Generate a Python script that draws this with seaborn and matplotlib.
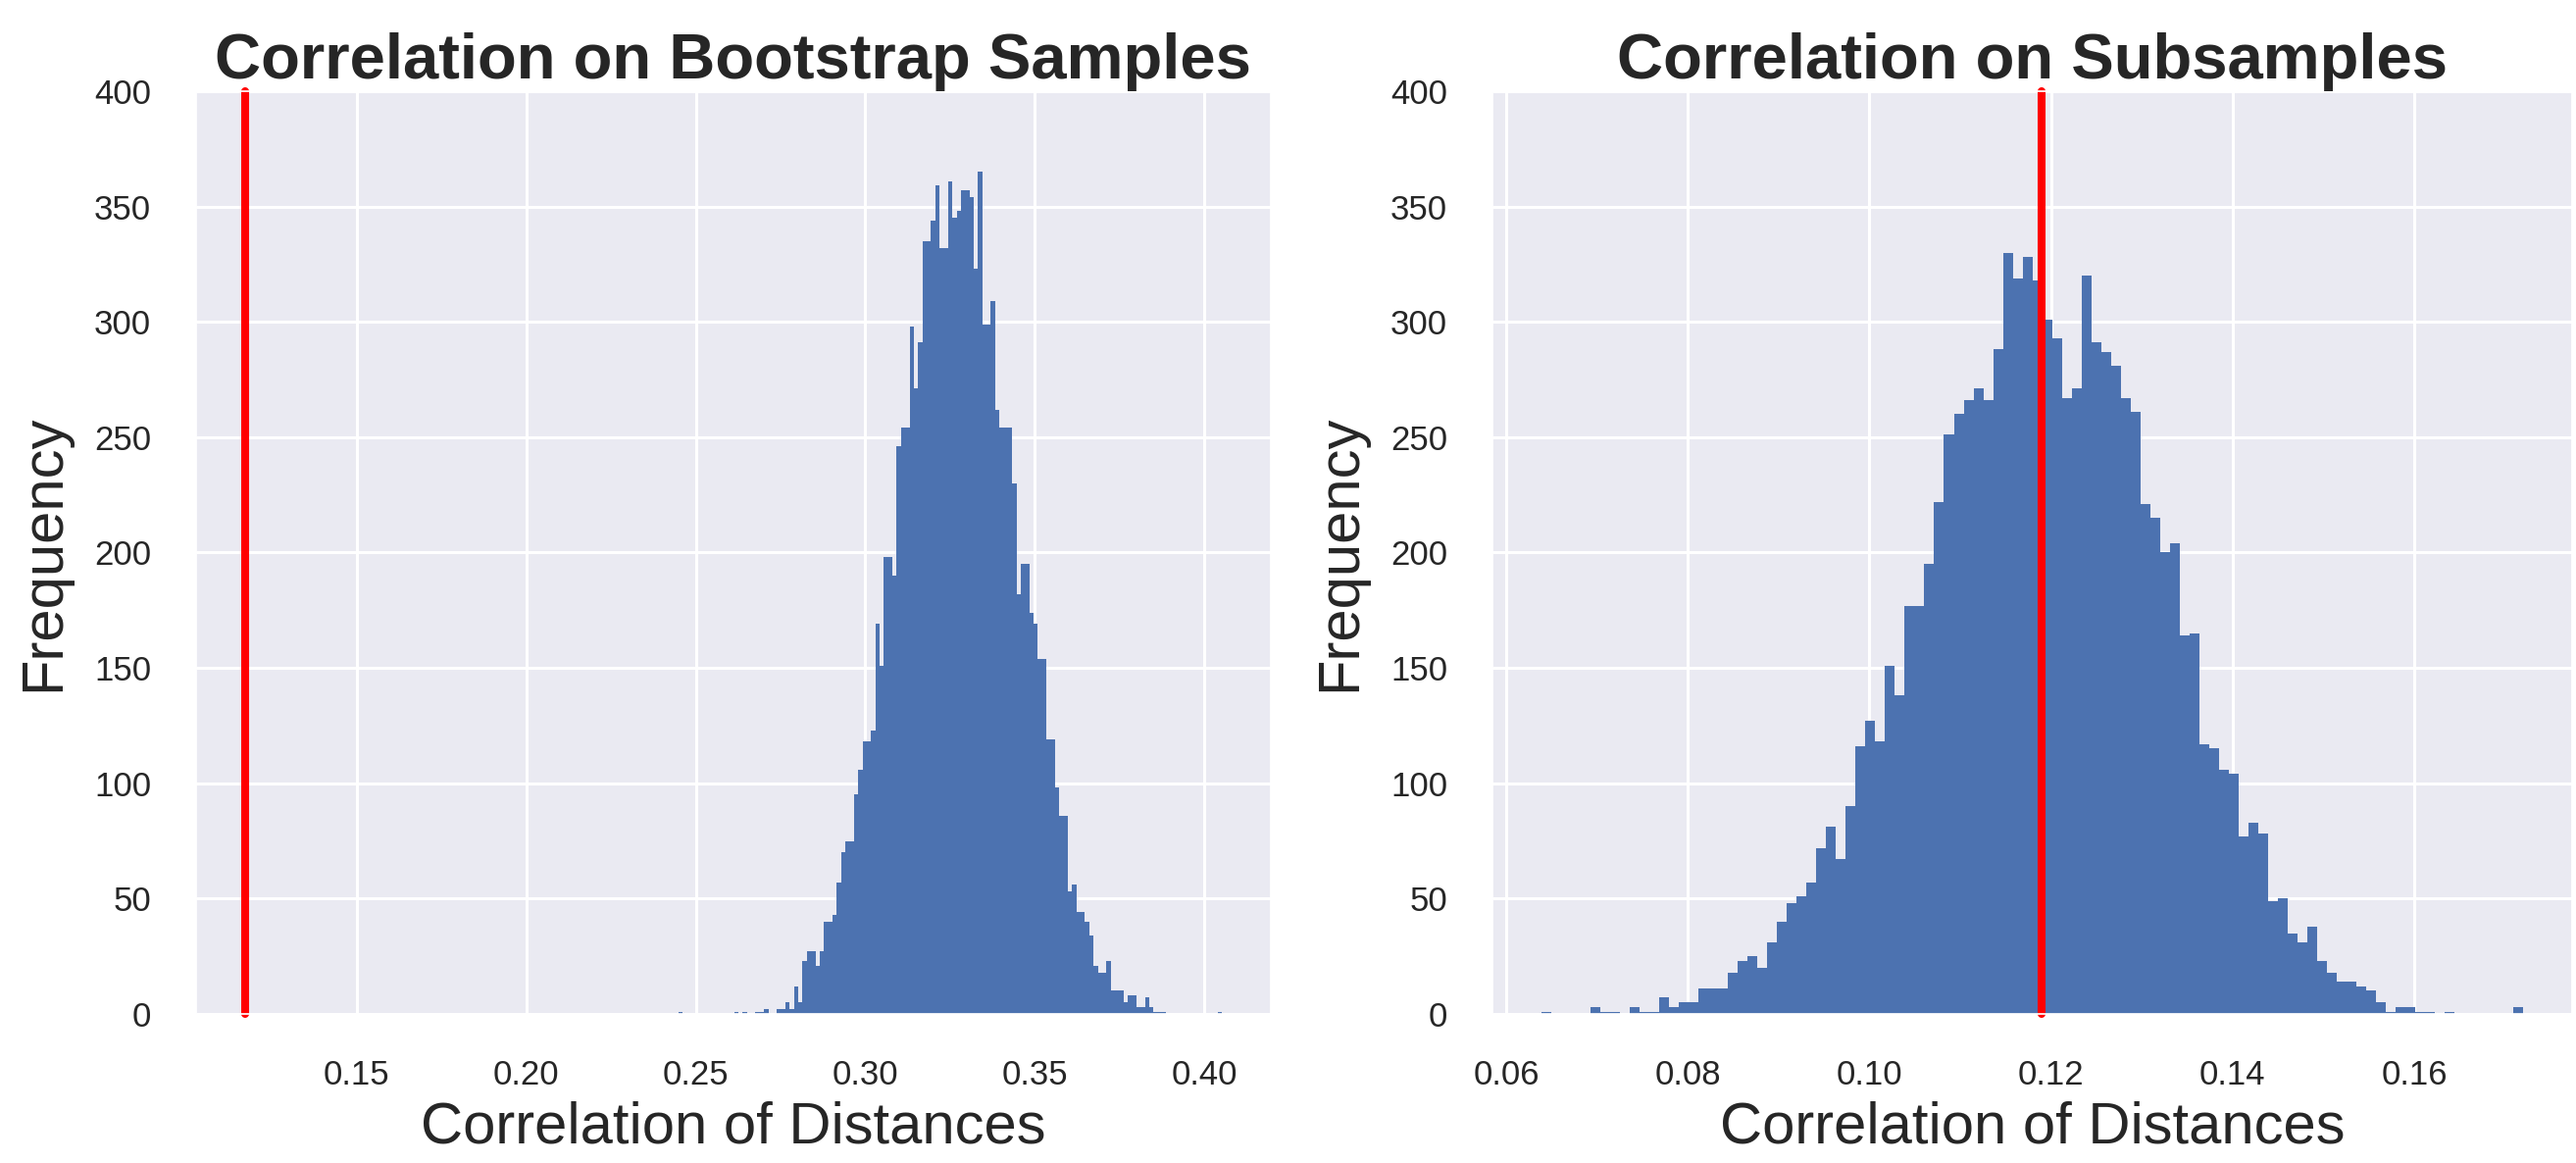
import numpy as np
import pandas as pd
import matplotlib
matplotlib.use("Agg")
import matplotlib.pyplot as plt
import seaborn as sns

# ── Data ────────────────────────────────────────────────────────────────────
# bootstrap correlations: counts per bin, equal-width bins over boot_range
boot_counts = [
    1, 0, 0, 0, 0, 0, 0, 0, 0, 0, 0, 0, 0, 1, 0, 1, 0, 0, 1, 1,
    2, 0, 0, 2, 2, 5, 2,
    12, 5, 23, 27, 27, 21, 27, 40, 40, 43,
    57, 70, 75, 75, 95, 106, 118, 118, 123, 169,
    151, 198, 198, 190, 246, 254, 254, 298, 271, 291,
    335, 335, 344, 359, 332, 332, 361, 345, 348, 357,
    357, 354, 323, 365, 299, 299, 309, 262, 254, 254,
    254, 230, 182, 195, 195, 174, 169, 154, 154, 119,
    119, 98, 86, 86, 53, 56, 44, 44, 40, 34,
    21, 18, 18, 23, 10, 10, 10, 5, 8, 8,
    3, 3, 7, 3,
    1, 1, 1, 0, 0, 0, 0, 0, 0, 0, 0, 0, 0, 0, 0, 1,
]
boot_range = (0.2449, 0.4052)
boot_observed = 0.117
boot_xticks = [0.15, 0.20, 0.25, 0.30, 0.35, 0.40]

# subsample correlations
sub_counts = [
    1, 0, 0, 0, 0, 3, 1, 1, 0, 3,
    1, 1, 7, 3, 5, 5, 11, 11, 11, 18,
    23, 25, 20, 31, 40, 48, 51, 57, 72, 81,
    67, 90, 116, 127, 118, 151, 138, 177, 177, 195,
    222, 251, 260, 266, 271, 266, 288, 330, 319, 328,
    318, 301, 293, 267, 271, 320, 291, 287, 281, 267,
    261, 221, 215, 200, 204, 164, 165, 117, 115, 106,
    104, 77, 83, 78, 49, 50, 35, 31, 38, 23,
    18, 14, 14, 12, 10, 5, 1, 3, 3, 1,
    1, 0, 1, 0, 0, 0, 0, 0, 0, 3,
]
sub_range = (0.0639, 0.1720)
sub_observed = 0.119
sub_xticks = [0.06, 0.08, 0.10, 0.12, 0.14, 0.16]

y_ticks = [0, 50, 100, 150, 200, 250, 300, 350, 400]

# ── Style ───────────────────────────────────────────────────────────────────
sns.set_theme(style="darkgrid")
plt.rcParams["font.family"] = ["Liberation Sans", "DejaVu Sans"]
plt.rcParams["grid.linewidth"] = 2.2

fig = plt.figure(figsize=(26.27, 11.86), dpi=100)
ax1 = fig.add_axes([0.0761, 0.1282, 0.4172, 0.7934])
ax2 = fig.add_axes([0.5794, 0.1282, 0.4191, 0.7934])


def draw(ax, counts, rng, observed, xticks, title):
    n = len(counts)
    width = (rng[1] - rng[0]) / n
    df = pd.DataFrame({
        "corr": [rng[0] + width * (i + 0.5) for i in range(n)],
        "count": counts,
    })
    sns.histplot(data=df, x="corr", weights="count", bins=n, binrange=rng,
                 ax=ax, color="#4C72B0", alpha=1, linewidth=0)
    ax.axvline(observed, color="red", lw=5.8, clip_on=False)
    ax.set_ylim(0, 400)
    ax.set_yticks(y_ticks)
    ax.set_xticks(xticks)
    ax.set_title(title, fontsize=47, fontweight="bold", pad=9)
    ax.set_xlabel("Correlation of Distances", fontsize=43, labelpad=7)
    ax.set_ylabel("Frequency", fontsize=43, labelpad=17)
    ax.tick_params(axis="x", labelsize=25, pad=27)
    ax.tick_params(axis="y", labelsize=25, pad=27)


draw(ax1, boot_counts, boot_range, boot_observed, boot_xticks,
     "Correlation on Bootstrap Samples")
draw(ax2, sub_counts, sub_range, sub_observed, sub_xticks,
     "Correlation on Subsamples")

fig.savefig("out.png", dpi=100)
